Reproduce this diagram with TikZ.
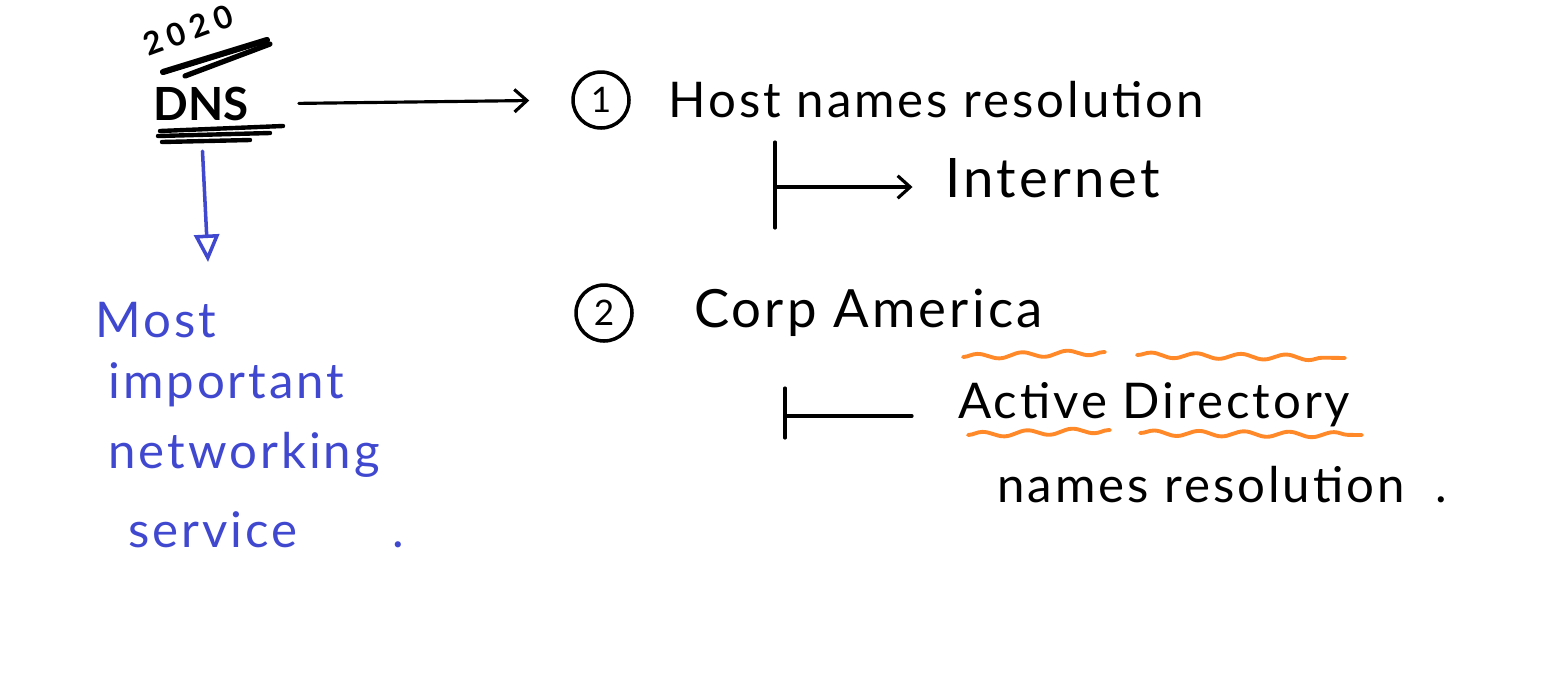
\documentclass[tikz,border=0pt]{standalone}
\usepackage{fontspec}
\setmainfont{Lato}
\newfontfamily\handfont[LetterSpace=6]{Lato}
\newfontfamily\yearfont[LetterSpace=20]{Lato}
\usetikzlibrary{arrows.meta,calc,positioning,decorations.pathmorphing}
\definecolor{blueink}{RGB}{64,72,208}
\definecolor{orangeink}{RGB}{255,136,40}
\tikzset{
inkline/.style={
  line width=1.8pt,
  line cap=round,
  draw=black,
  }
}
\tikzset{
inkarrow/.style={
  inkline,
  -{Straight Barb[length=2.5mm,width=4.5mm]}
  }
}
\tikzset{
bluearrow/.style={
  line width=2pt,
  line cap=round,
  draw=blueink,
  -{Triangle[open,length=5.5mm,width=5mm,line width=2pt]}
  }
}
\tikzset{
handtext/.style={
  font=\handfont\fontsize{28}{32}\selectfont,
  inner sep=0pt,
  anchor=west,
  }
}
\tikzset{
numcircle/.style={
  circle,
  draw=black,
  line width=2pt,
  minimum size=1.12cm,
  inner sep=0pt,
  font=\fontsize{20}{22}\selectfont,
  }
}
\tikzset{
wavy/.style={
  draw=orangeink,
  line width=2.2pt,
  line cap=round,
  decorate,
  decoration={snake, amplitude=1.5pt, segment length=9mm}
  }
}

\begin{document}
\begin{tikzpicture}[x=0.02cm,y=-0.02cm]
    \useasboundingbox (0,0) rectangle (1567,691);
    % left side: DNS heading
    \node[font=\yearfont\bfseries\fontsize{18}{20}\selectfont, rotate=20, inner sep=0pt] (yr) at (188,30) {2020};
    \draw[line width=3.5pt, line cap=round] (163,72) -- (267,40);
    \draw[line width=3pt, line cap=round] (185,76) -- (270,44);
    \node[font=\fontsize{26}{28}\selectfont\bfseries, inner sep=0pt] (dns) at (201,104) {DNS};
    \draw[line width=2.5pt, line cap=round] (160,131) -- (283,126);
    \draw[line width=2.5pt, line cap=round] (158,136) -- (270,133);
    \draw[line width=2.5pt, line cap=round] (162,142) -- (250,140);
    
    % blue note
    \node[handtext, text=blueink] (most) at (95,320) {Most};
    \node[handtext, text=blueink] (imp) at (108,385) {important};
    \node[handtext, text=blueink] (netw) at (108,455) {networking};
    \node[handtext, text=blueink] (serv) at (128,530) {service \hspace{1.6cm}.};
    \coordinate (mostarr) at (208,262);
    \draw[bluearrow, shorten <=0.6cm] (dns.south) -- (mostarr);
    
    % (1) host names
    \node[numcircle] (one) at (601,100) {1};
    \node[handtext, right=0.75cm of one] (host) {Host names resolution};
    \coordinate (t1top) at (775,142);
    \coordinate (t1bot) at (775,228);
    \coordinate (t1mid) at (775,187);
    \node[handtext, font=\handfont\fontsize{31}{34}\selectfont] (internet) at (945,178) {Internet};
    \draw[inkline] (t1top) -- (t1bot);
    \draw[inkarrow, shorten >=0.65cm] (t1mid) -- (t1mid -| internet.west);
    \draw[inkarrow, shorten <=1.0cm, shorten >=0.84cm] (dns.east) -- (one.west);
    
    % (2) Corp America
    \node[numcircle] (two) at (604,313) {2};
    \node[handtext, font=\handfont\fontsize{30}{34}\selectfont, right=1.2cm of two] (corp) {Corp America};
    \coordinate (t2top) at (785,388);
    \coordinate (t2bot) at (785,438);
    \coordinate (t2mid) at (785,416);
    \node[handtext] (ad) at (958,405) {Active Directory};
    \node[handtext] (adres) at (997,485) {names resolution \hspace{0.3cm}.};
    \draw[inkline] (t2top) -- (t2bot);
    \draw[inkline, shorten >=0.92cm] (t2mid) -- (t2mid -| ad.west);
    
    % orange marks round Active Directory
    \draw[wavy] (963,357) -- (1105,352);
    \draw[wavy] (1137,355) -- (1345,358);
    \draw[wavy] (968,435) -- (1110,430);
    \draw[wavy] (1140,433) -- (1362,435);
\end{tikzpicture}
\end{document}
